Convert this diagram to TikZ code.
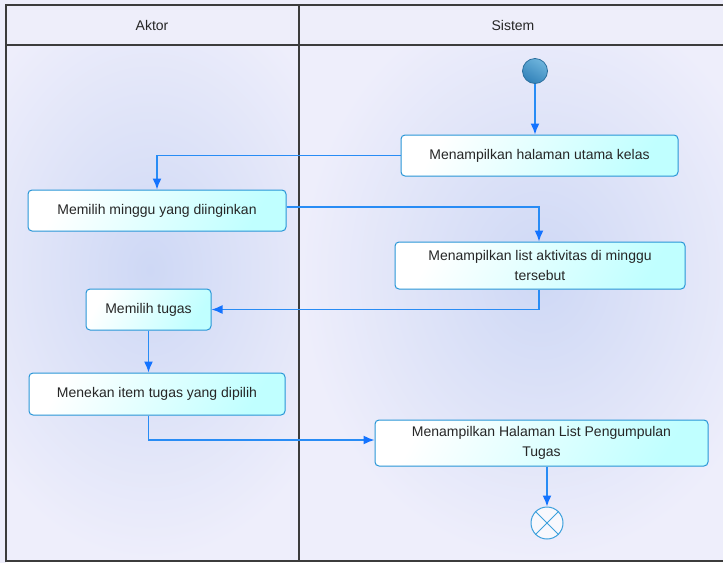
\documentclass[tikz,border=0pt]{standalone}
\usepackage{fontspec}
\setmainfont{Liberation Sans}
\usetikzlibrary{arrows.meta}
\definecolor{lanebg}{RGB}{238,238,251}
\definecolor{laneglow}{RGB}{206,216,245}
\definecolor{hdrbg}{RGB}{238,238,250}
\definecolor{frameln}{RGB}{60,60,60}
\definecolor{actborder}{RGB}{40,150,215}
\definecolor{actfill}{RGB}{192,255,255}
\definecolor{flowln}{RGB}{40,140,245}
\definecolor{flowtip}{RGB}{20,115,255}
\definecolor{startfill}{RGB}{50,130,185}
\definecolor{startlight}{RGB}{110,180,220}
\definecolor{endln}{RGB}{60,160,220}
\tikzset{
  activity/.style={draw=actborder, line width=1pt, rounded corners=4pt,
    left color=white, right color=actfill, shading angle=60,
    align=center, font=\fontsize{14}{20}\selectfont, text=black!85},
  flow/.style={draw=flowln, line width=1.5pt,
    -{Latex[length=11pt,width=9pt,color=flowtip]}},
  lanetitle/.style={font=\fontsize{14}{16}\selectfont, text=black!85},
  frame/.style={draw=frameln, line width=1.3pt}
}
\begin{document}
\begin{tikzpicture}[x=1pt,y=-1pt]
\useasboundingbox (0,0) rectangle (723,563);
% lane backgrounds
\fill[lanebg] (6,45) rectangle (730,561);
\shade[inner color=laneglow, outer color=lanebg] (-60,-20) rectangle (360,560);
\shade[inner color=laneglow, outer color=lanebg] (300,-10) rectangle (780,560);
\fill[lanebg] (0,0) rectangle (6,563);
\fill[lanebg] (0,0) rectangle (723,45);
\fill[hdrbg] (6,5) rectangle (730,45);
% swimlane frame
\draw[frame] (730,5) -- (6,5) -- (6,561) -- (730,561);
\draw[frame] (6,45) -- (730,45);
\draw[frame] (299,5) -- (299,561);
\node[lanetitle] (laneA) at (152,25) {Aktor};
\node[lanetitle] (laneS) at (513,25) {Sistem};

% initial and final states
\node[circle, minimum size=25pt, inner sep=0pt, draw=startfill!85!black, line width=0.8pt,
  top color=startlight, bottom color=startfill, shading angle=-30] (start) at (535,71) {};
\node[circle, minimum size=32pt, inner sep=0pt, draw=endln, line width=1pt,
  fill=white!60!lanebg] (end) at (547,523) {};
\draw[endln, line width=1pt] (end.north west) -- (end.south east)
  (end.north east) -- (end.south west);

% activities
\node[activity, minimum width=277pt, minimum height=41pt] (a1) at (539.5,155.5)
  {Menampilkan halaman utama kelas};
\node[activity, minimum width=258pt, minimum height=41pt] (a2) at (157,210.5)
  {Memilih minggu yang diinginkan};
\node[activity, minimum width=290pt, minimum height=47pt] (a3) at (540,265.5)
  {Menampilkan list aktivitas di minggu\\tersebut};
\node[activity, minimum width=125pt, minimum height=41pt] (a4) at (148.5,309.5)
  {Memilih tugas};
\node[activity, minimum width=256pt, minimum height=42pt] (a5) at (157,394)
  {Menekan item tugas yang dipilih};
\node[activity, minimum width=333pt, minimum height=46pt] (a6) at (541.5,443)
  {Menampilkan Halaman List Pengumpulan\\Tugas};

% control flows
\draw[flow] (start.south) -- (a1.north -| start.south);
\draw[flow] (a1.west) -| (a2.north);
\draw[flow] (a2.east |- 0,207) -| (a3.north -| 539,0);
\draw[flow] (a3.south -| 539,0) |- (a4.east);
\draw[flow] (a4.south) -- (a5.north -| a4.south);
\draw[flow] (a5.south -| a4.south) |- (a6.west |- 0,440);
\draw[flow] (a6.south -| end.north) -- (end.north);
\end{tikzpicture}
\end{document}
